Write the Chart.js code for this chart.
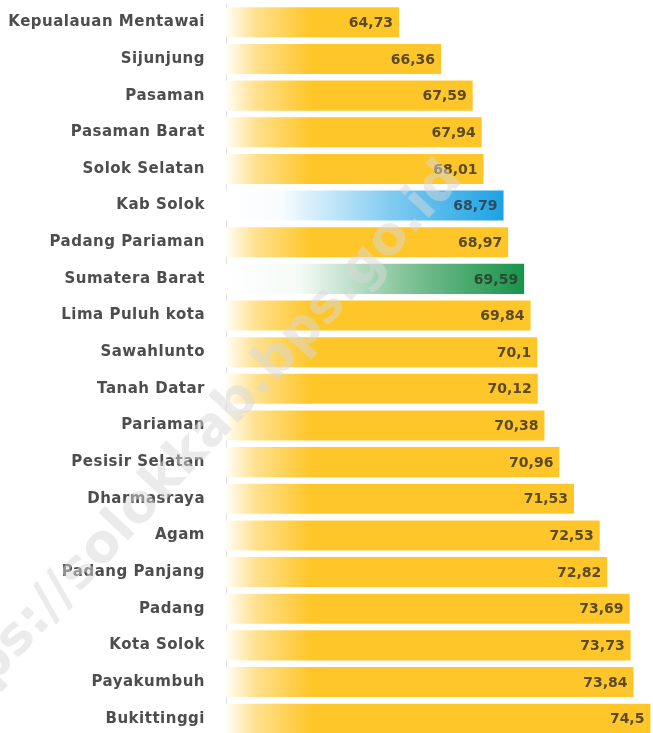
<!DOCTYPE html>
<html>
<head>
<meta charset="utf-8">
<script src="https://cdn.jsdelivr.net/npm/chart.js@4"></script>
<style>
  html, body { margin: 0; padding: 0; background: #fff; overflow: hidden; }
  #wrap { width: 653px; height: 741px; }
</style>
</head>
<body>
<div id="wrap"><canvas id="ipmChart"></canvas></div>
<script>
const wilayah = ["Kepualauan Mentawai", "Sijunjung", "Pasaman", "Pasaman Barat", "Solok Selatan", "Kab Solok", "Padang Pariaman", "Sumatera Barat", "Lima Puluh kota", "Sawahlunto", "Tanah Datar", "Pariaman", "Pesisir Selatan", "Dharmasraya", "Agam", "Padang Panjang", "Padang", "Kota Solok", "Payakumbuh", "Bukittinggi"]
const nilai = [64.73, 66.36, 67.59, 67.94, 68.01, 68.79, 68.97, 69.59, 69.84, 70.1, 70.12, 70.38, 70.96, 71.53, 72.53, 72.82, 73.69, 73.73, 73.84, 74.5]
const sorotan = {"Kab Solok": "biru", "Sumatera Barat": "hijau"}

var ctx = document.getElementById('ipmChart').getContext('2d');

function warnaBar(context) {
	const chart = context.chart;
	const area = chart.chartArea;
	if (!area) return '#ffc41e';
	const label = wilayah[context.dataIndex];
	const ujung = chart.scales.x.getPixelForValue(nilai[context.dataIndex]);
	let g;
	if (sorotan[label] == "biru") {
		g = chart.ctx.createLinearGradient(area.left, 0, ujung, 0);
		g.addColorStop(0, '#ffffff');
		g.addColorStop(0.2, '#f8fcff');
		g.addColorStop(0.6, '#7fcaf1');
		g.addColorStop(1, '#1ca3e2');
	} else if (sorotan[label] == "hijau") {
		g = chart.ctx.createLinearGradient(area.left, 0, ujung, 0);
		g.addColorStop(0, '#ffffff');
		g.addColorStop(0.25, '#f4faf6');
		g.addColorStop(0.65, '#74bd8c');
		g.addColorStop(1, '#17934a');
	} else {
		g = chart.ctx.createLinearGradient(area.left, 0, area.left + 85, 0);
		g.addColorStop(0, '#fffdf6');
		g.addColorStop(0.35, '#ffe18e');
		g.addColorStop(1, '#ffc629');
	}
	return g;
}

// sedikit jarak antar huruf, seperti font aslinya
const jarakHuruf = {
	id: 'jarakHuruf',
	beforeDraw(chart) {
		chart.ctx.letterSpacing = '0.5px';
	}
};

// label nilai di ujung bar
const labelNilai = {
	id: 'labelNilai',
	afterDatasetsDraw(chart) {
		const c = chart.ctx;
		const meta = chart.getDatasetMeta(0);
		c.save();
		c.font = 'bold 14px "DejaVu Sans", sans-serif';
		c.letterSpacing = '0px';
		c.textAlign = 'right';
		c.textBaseline = 'middle';
		meta.data.forEach((bar, i) => {
			const label = wilayah[i];
			c.fillStyle = sorotan[label] == "biru" ? '#2f4c5e' : (sorotan[label] == "hijau" ? '#2c4a30' : '#5a4a26');
			c.fillText(String(nilai[i]).replace('.', ','), bar.x - 6, bar.y + 1);
		});
		c.restore();
	}
};

// watermark
const watermark = {
	id: 'watermark',
	afterDraw(chart) {
		const c = chart.ctx;
		c.save();
		c.letterSpacing = '0px';
		c.translate(464, 180);
		c.rotate(-47 * Math.PI / 180);
		c.font = 'bold 53px "DejaVu Sans", sans-serif';
		c.textAlign = 'right';
		c.textBaseline = 'alphabetic';
		c.fillStyle = 'rgba(215,215,215,0.5)';
		c.fillText('https://solokkab.bps.go.id', 0, 0);
		c.restore();
	}
};

new Chart(ctx, {
	type: 'bar',
	data: {
		labels: wilayah,
		datasets: [{
			data: nilai,
			backgroundColor: warnaBar,
			borderWidth: 0,
			categoryPercentage: 1,
			barPercentage: 0.82
		}]
	},
	options: {
		indexAxis: 'y',
		responsive: true,
		maintainAspectRatio: false,
		animation: false,
		layout: { padding: 0 },
		plugins: {
			legend: { display: false },
			tooltip: { enabled: false }
		},
		scales: {
			x: {
				display: false,
				min: 58,
				max: 74.6
			},
			y: {
				afterFit(scale) { scale.width = 226; },
				grid: { display: false, drawTicks: true, tickLength: 20 },
				border: { display: true, color: '#e2e2e2', width: 1 },
				ticks: {
					padding: 1,
					color: '#4d4d4d',
					font: { family: '"DejaVu Sans", sans-serif', size: 15, weight: 'bold', lineHeight: 0.4 }
				}
			}
		}
	},
	plugins: [jarakHuruf, labelNilai, watermark]
});
</script>
</body>
</html>
